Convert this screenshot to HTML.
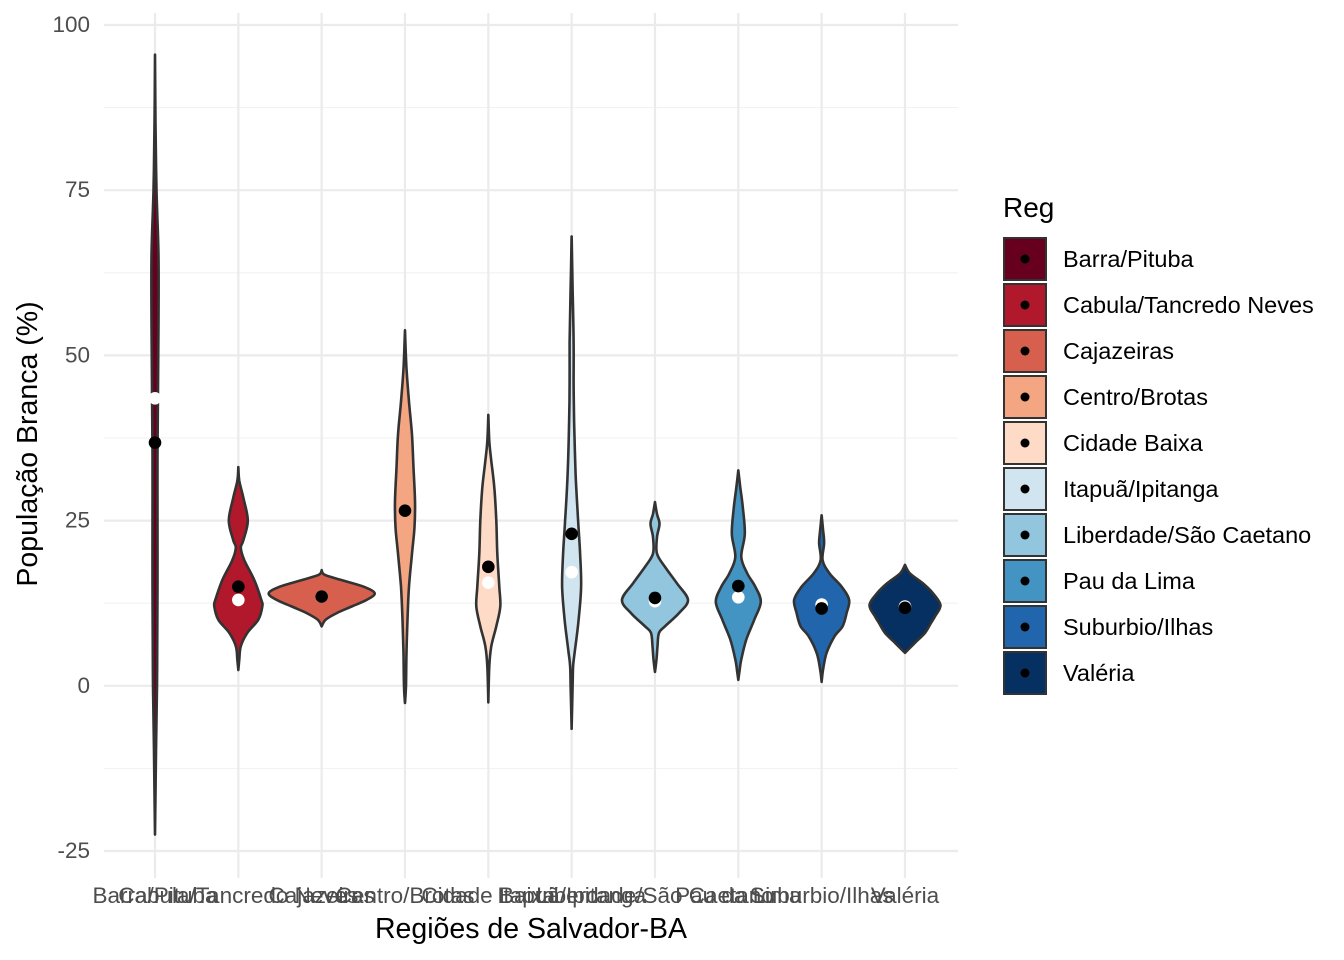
<!DOCTYPE html>
<html><head><meta charset="utf-8"><style>
body{margin:0;background:#fff;}
svg{display:block;font-family:"Liberation Sans",Arial,sans-serif;}
</style></head><body>
<svg id="chart" width="1344" height="960" xmlns="http://www.w3.org/2000/svg">
<g id="grid"></g><g id="violins"></g><g id="axes"></g><g id="legend"></g>
</svg>
<script>
const categories=["Barra/Pituba","Cabula/Tancredo Neves","Cajazeiras","Centro/Brotas","Cidade Baixa","Itapuã/Ipitanga","Liberdade/São Caetano","Pau da Lima","Suburbio/Ilhas","Valéria"];
const colors=["#67001F","#B2182B","#D6604D","#F4A582","#FDDBC7","#D1E5F0","#92C5DE","#4393C3","#2166AC","#053061"];
const yTicks=[-25,0,25,50,75,100];
const medians=[36.8,15,13.5,26.5,18,23,13.3,15.1,11.7,11.8];
const means=[43.5,13,13.5,26.5,15.6,17.2,12.8,13.4,12.3,12];
// density profiles: [value, relative half-width]
const dens0=[[95.5,0],[85,0.5],[75,1.5],[65,3.5],[55,3.5],[45,3],[35,2.5],[25,2.5],[15,2.5],[5,2.2],[0,2],[-10,1],[-22.5,0]];
const dens1=[[33.1,0],[31,1],[28.5,5],[25,9.5],[22,5],[20.9,2.5],[19,6],[16,16],[13,23],[12,24],[10,20],[8,9],[6,2.5],[4,1],[2.4,0]];
const dens2=[[17.5,0],[16.8,3],[16,20],[15,42],[14,53],[13,45],[12,30],[11,15],[10,4],[9,0]];
const dens3=[[53.8,0],[48,1.5],[43,4],[38,7],[33,8.5],[28,10],[24,9.5],[20,7],[15,4],[10,2.5],[5,1.5],[0,1],[-2.6,0]];
const dens4=[[41,0],[37,1],[34,3],[30,6],[25,8],[20,9],[15,11],[12,12],[9,8],[6,3],[3,1],[-2.5,0]];
const dens5=[[68,0],[60,1],[52,2],[46,2],[40,2.5],[32,4],[25,6.5],[20,8.5],[15,9.5],[10,7],[5,3],[3,1.5],[0,1],[-6.5,0]];
const dens6=[[27.8,0],[26,2],[24.5,4.5],[22.5,2],[20,2],[18,10],[15.5,22],[13,33],[11,24],[9,10],[8,4],[6,2.5],[4,1.5],[2.1,0]];
const dens7=[[32.6,0],[30,2],[27,4.5],[23,6.5],[19.5,3],[17,9],[15,17],[12.7,22.5],[10,16],[7,8],[4,3],[2,1],[0.9,0]];
const dens8=[[25.8,0],[23.5,1.5],[21.6,2.5],[19,1],[17,8],[15,20],[13,27.5],[11,25],[9,21],[7.5,13],[5,5],[2.5,1.5],[0.6,0]];
const dens9=[[18.3,0],[17,5],[15.5,18],[14,28],[12.2,35.5],[10.5,30],[9.5,26],[8,20],[6.5,10],[5,0]];
const densities=[dens0,dens1,dens2,dens3,dens4,dens5,dens6,dens7,dens8,dens9];

const NS="http://www.w3.org/2000/svg";
const L=104,R=958,T=25,B=851;
const y=v=>685.8-v*(B-T)/125;
const step=83.33;
const x=i=>155+step*i;
function mk(tag,attrs,parent){const e=document.createElementNS(NS,tag);for(const k in attrs)e.setAttribute(k,attrs[k]);parent.appendChild(e);return e;}
const grid=document.getElementById('grid'),vg=document.getElementById('violins'),ax=document.getElementById('axes'),lg=document.getElementById('legend');
for(let i=0;i<yTicks.length-1;i++){const v=(yTicks[i]+yTicks[i+1])/2;const l=mk('line',{x1:L,x2:R,y1:y(v),y2:y(v),stroke:'#f2f2f2','stroke-width':1.1},grid);
}
yTicks.forEach(t=>{const l=mk('line',{x1:L,x2:R,y1:y(t),y2:y(t),stroke:'#ebebeb','stroke-width':2.2},grid);

const tx=mk('text',{x:90,y:y(t)+7,'text-anchor':'end','font-size':22.5,fill:'#4d4d4d'},ax);tx.textContent=t;
});
categories.forEach((c,i)=>{const l=mk('line',{x1:x(i),x2:x(i),y1:13,y2:878,stroke:'#ebebeb','stroke-width':2.2},grid);

const tx=mk('text',{x:x(i),y:903,'text-anchor':'middle','font-size':22.5,fill:'#4d4d4d'},ax);tx.textContent=c;
});
function smooth(pts){let d='';for(let i=0;i<pts.length-1;i++){const p0=pts[Math.max(0,i-1)],p1=pts[i],p2=pts[i+1],p3=pts[Math.min(pts.length-1,i+2)];
const c1=[p1[0]+(p2[0]-p0[0])/6,p1[1]+(p2[1]-p0[1])/6],c2=[p2[0]-(p3[0]-p1[0])/6,p2[1]-(p3[1]-p1[1])/6];
d+=` C${c1[0].toFixed(1)},${c1[1].toFixed(1)} ${c2[0].toFixed(1)},${c2[1].toFixed(1)} ${p2[0].toFixed(1)},${p2[1].toFixed(1)}`;}return d;}
densities.forEach((ds,i)=>{const cx=x(i);
const right=ds.map(p=>[cx+p[1],y(p[0])]);const left=ds.slice().reverse().map(p=>[cx-p[1],y(p[0])]);
const d=`M${right[0][0]},${right[0][1]}`+smooth(right)+` L${left[0][0]},${left[0][1]}`+smooth(left)+'Z';
const p=mk('path',{d:d,fill:colors[i],stroke:'#333','stroke-width':2.6,'stroke-linejoin':'round'},vg);
});
means.forEach((m,i)=>{const c=mk('circle',{cx:x(i),cy:y(m),r:6.3,fill:'#fff'},vg);
});
medians.forEach((m,i)=>{const c=mk('circle',{cx:x(i),cy:y(m),r:6.3,fill:'#000'},vg);
});
let t=mk('text',{x:531,y:938,'text-anchor':'middle','font-size':28.5,fill:'#000'},ax);t.textContent='Regiões de Salvador-BA';

t=mk('text',{x:0,y:0,'text-anchor':'middle','font-size':28.5,fill:'#000',transform:'translate(37,444) rotate(-90)'},ax);t.textContent='População Branca (%)';

t=mk('text',{x:1003,y:217,'font-size':28,fill:'#000'},lg);t.textContent='Reg';

categories.forEach((c,i)=>{const yy=237+i*46;
const g=mk('g',{},lg);
mk('rect',{x:1004,y:yy+1,width:42,height:42,fill:colors[i],stroke:'#333','stroke-width':2},g);
mk('circle',{cx:1025,cy:yy+22,r:4.5,fill:'#000'},g);
const tx=mk('text',{x:1063,y:yy+30,'font-size':23.5,fill:'#000'},g);tx.textContent=c;});
</script>
</body></html>
